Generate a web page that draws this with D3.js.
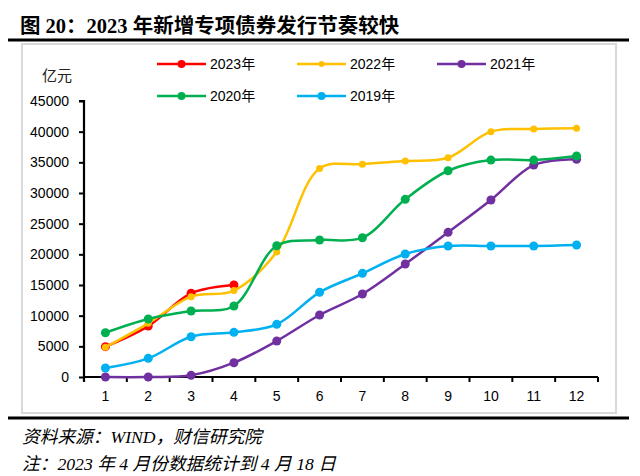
<!DOCTYPE html>
<html><head><meta charset="utf-8">
<script src="https://cdn.jsdelivr.net/npm/d3@7"></script>
<style>
body{margin:0;background:#fff;}
svg{display:block;}
</style></head>
<body>
<svg id="chart" width="640" height="476"></svg>
<script>
const months = ["1","2","3","4","5","6","7","8","9","10","11","12"];
const yTicks = [0,5000,10000,15000,20000,25000,30000,35000,40000,45000];
const seriesNames = ["2023年","2022年","2021年","2020年","2019年"];
const seriesColors = ["#FF0000","#FFC000","#7030A0","#00B050","#00B0F0"];
const markerR = [4.5,3.5,4.5,4.5,4.5];
const v2023 = [4950,8300,13650,15000];
const v2022 = [4850,8750,13100,14100,20400,34000,34700,35200,35750,40000,40450,40550];
const v2021 = [0,0,270,2330,5870,10110,13530,18420,23590,28860,34560,35490];
const v2020 = [7220,9460,10760,11580,21400,22330,22710,28970,33630,35370,35370,36030];
const v2019 = [1470,3040,6570,7280,8590,13810,16900,20050,21360,21360,21360,21520];
const seriesValues = [v2023,v2022,v2021,v2020,v2019];
const titleText = "图 20：2023 年新增专项债券发行节奏较快";
const sourceText = "资料来源：WIND，财信研究院";
const noteText = "注：2023 年 4 月份数据统计到 4 月 18 日";
const unitText = "亿元";

const svg = d3.select("#chart");
const numFont = "'Liberation Sans', Arial, 'Noto Sans CJK SC', sans-serif";

// title
svg.append("text").attr("x",20).attr("y",33)
  .attr("font-family","'Liberation Serif','Noto Sans CJK SC',serif")
  .attr("font-weight","bold").attr("font-size",20.5).attr("fill","#000")
  .text(titleText);
// top & bottom rules
svg.append("line").attr("x1",8).attr("x2",629).attr("y1",40).attr("y2",40).attr("stroke","#000").attr("stroke-width",3);
svg.append("line").attr("x1",8).attr("x2",629).attr("y1",418).attr("y2",418).attr("stroke","#000").attr("stroke-width",3);
// chart border
svg.append("rect").attr("x",22).attr("y",44).attr("width",594).attr("height",369)
  .attr("fill","none").attr("stroke","#d9d9d9").attr("stroke-width",2);

// source lines
svg.append("text").attr("x",22).attr("y",443).attr("font-family","'Liberation Serif','Noto Sans CJK SC',serif")
  .attr("font-style","italic").attr("font-size",17.7).text(sourceText);
svg.append("text").attr("x",22).attr("y",470).attr("font-family","'Liberation Serif','Noto Sans CJK SC',serif")
  .attr("font-style","italic").attr("font-size",17.7).text(noteText);

// scales
const x = d3.scaleBand().domain(months).range([84,598]);
const y = d3.scaleLinear().domain([0,45000]).range([377,101]);

// y axis
const yAxis = svg.append("g").attr("transform","translate(84,0)")
  .call(d3.axisLeft(y).tickValues(yTicks).tickSize(5).tickPadding(10).tickFormat(d3.format("d")));
yAxis.select(".domain").attr("stroke","#000").attr("stroke-width",2.2).attr("d","M-5,101H0V382");
yAxis.selectAll(".tick line").attr("stroke","#000").attr("stroke-width",2);
yAxis.selectAll("text").attr("font-family",numFont).attr("font-size",14).attr("fill","#000");

// x axis
const xAxis = svg.append("g").attr("transform","translate(0,377)")
  .call(d3.axisBottom(x).tickSize(0).tickPadding(14));
xAxis.select(".domain").attr("stroke","#000").attr("stroke-width",2.2).attr("d","M84,0H598");
xAxis.selectAll("text").attr("font-family",numFont).attr("font-size",14).attr("fill","#000");
const bounds = months.map(m => x(m)).concat([x.range()[1]]);
xAxis.selectAll(".bound").data(bounds).enter().append("line")
  .attr("x1",d=>d).attr("x2",d=>d).attr("y1",0).attr("y2",5).attr("stroke","#000").attr("stroke-width",2);

// unit label
svg.append("text").attr("x",57).attr("y",81).attr("text-anchor","middle")
  .attr("font-family","'Noto Sans CJK SC',sans-serif").attr("font-size",15).attr("fill","#222").text(unitText);

// lines
const line = d3.line()
  .x((d,i)=> x(months[i]) + x.bandwidth()/2)
  .y(d=> y(d))
  .curve(d3.curveCatmullRom.alpha(0.5));

seriesValues.forEach((vals,si)=>{
  const g = svg.append("g");
  g.append("path").datum(vals).attr("d",line).attr("fill","none")
    .attr("stroke",seriesColors[si]).attr("stroke-width",2.5);
  g.selectAll("circle").data(vals).enter().append("circle")
    .attr("cx",(d,i)=> x(months[i]) + x.bandwidth()/2)
    .attr("cy",d=>y(d)).attr("r",markerR[si]).attr("fill",seriesColors[si]);
});

// legend
const legPos = [[157,64],[297,64],[437,64],[157,96],[297,96]];
seriesNames.forEach((n,si)=>{
  const [lx,ly] = legPos[si];
  const g = svg.append("g");
  g.append("line").attr("x1",lx).attr("x2",lx+49).attr("y1",ly).attr("y2",ly)
    .attr("stroke",seriesColors[si]).attr("stroke-width",2.5);
  g.append("circle").attr("cx",lx+24.5).attr("cy",ly).attr("r",markerR[si]-0.5).attr("fill",seriesColors[si]);
  g.append("text").attr("x",lx+53).attr("y",ly+5).attr("font-family",numFont)
    .attr("font-size",14).attr("fill","#000").text(n);
});
</script>
</body></html>
